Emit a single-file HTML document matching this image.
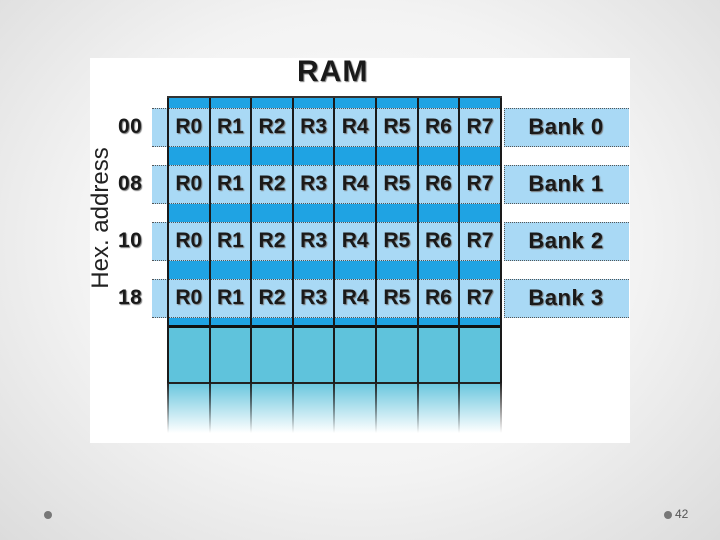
<!DOCTYPE html>
<html><head><style>
body{margin:0;width:720px;height:540px;overflow:hidden;background:radial-gradient(ellipse at 50% 45%,#fdfdfd 0%,#f3f3f3 55%,#dcdcdc 100%);font-family:"Liberation Sans",Arial,sans-serif;position:relative}
.a{position:absolute}
.pic{left:90px;top:58px;width:540px;height:385px;background:#fff}
.lbl{font-weight:bold;font-size:21px;color:#1a1a1a;text-shadow:1px 1px 1px #777;letter-spacing:0.5px}
.strip{background:#a9d9f5;border-top:1px dotted #555;border-bottom:1px dotted #555}
.dark{background:#1fa3e3}
.vl{background:#1a1a1a;width:2px}
.hl{background:#111;height:2px}
.cell{width:41.6px;text-align:center;line-height:38px;letter-spacing:0}
</style></head><body>
<div class="a pic"></div>
<div class="a lbl" style="left:297px;top:55px;font-size:30px;letter-spacing:1px">RAM</div>
<div class="a" style="left:101px;top:218px;transform:translate(-50%,-50%) rotate(-90deg);font-size:24px;color:#222;white-space:nowrap">Hex. address</div>

<div id="g"></div>
<script>
var h='';
var addr=['00','08','10','18'];
for(var i=0;i<4;i++){
 var t=97+57*i;
 h+='<div class="a dark" style="left:168px;top:'+t+'px;width:332px;height:58px"></div>';
 h+='<div class="a strip" style="left:152px;top:'+(t+11)+'px;width:476px;height:37px"></div>';
 h+='<div class="a" style="left:500px;top:'+(t+11)+'px;width:4px;height:39px;background:#fff"></div>';
 h+='<div class="a strip" style="left:504px;top:'+(t+11)+'px;width:124px;height:37px;border-left:1px dotted #555"></div>';
 h+='<div class="a lbl" style="left:118px;top:'+(t+18)+'px">'+addr[i]+'</div>';
 h+='<div class="a lbl" style="left:504px;top:'+(t+17)+'px;width:124px;text-align:center;font-size:22px">Bank '+i+'</div>';
 for(var c=0;c<8;c++){
  h+='<div class="a lbl cell" style="left:'+(168+c*41.6)+'px;top:'+(t+11)+'px">R'+c+'</div>';
 }
 h+='<div class="a hl" style="left:168px;top:'+(t+57)+'px;width:333px;height:1px"></div>';
}
h+='<div class="a" style="left:168px;top:326px;width:332px;height:57px;background:#5fc3dc"></div>';
h+='<div class="a" style="left:168px;top:383px;width:332px;height:50px;background:linear-gradient(#6ac6de,#fff)"></div>';
h+='<div class="a hl" style="left:167px;top:325px;width:335px;height:3px"></div>';
h+='<div class="a" style="left:168px;top:382px;width:333px;height:2px;background:#222"></div>';
for(var c=0;c<=8;c++){
 var x=167+c*41.6;
 h+='<div class="a vl" style="left:'+x+'px;top:97px;height:286px"></div>';
 h+='<div class="a" style="left:'+x+'px;top:383px;width:2px;height:50px;background:linear-gradient(#222,rgba(255,255,255,0))"></div>';
}
h+='<div class="a" style="left:167px;top:96px;width:335px;height:2px;background:#333"></div>';
document.getElementById('g').innerHTML=h;
</script>
<div class="a" style="left:44px;top:511px;width:8px;height:8px;border-radius:50%;background:#777"></div>
<div class="a" style="left:664px;top:511px;width:8px;height:8px;border-radius:50%;background:#777"></div>
<div class="a" style="left:675px;top:507px;font-size:12px;color:#555">42</div>
</body></html>
